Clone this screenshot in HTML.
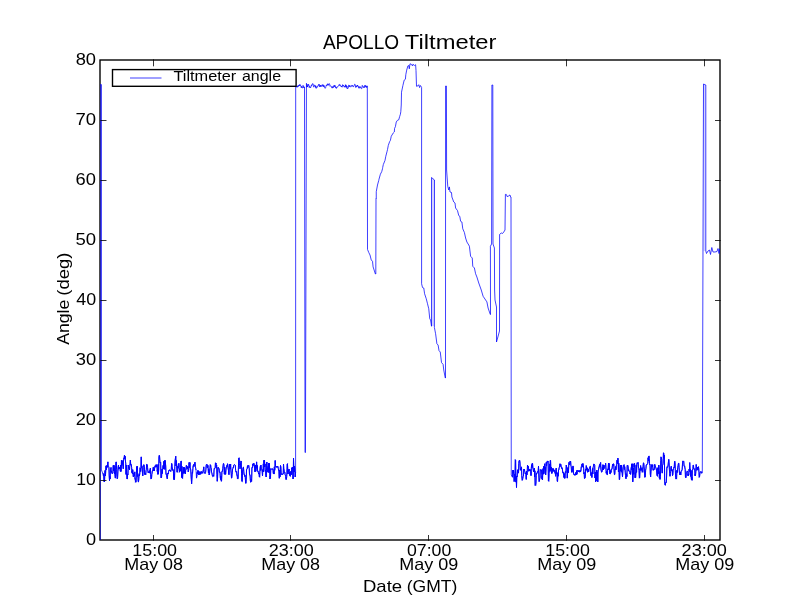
<!DOCTYPE html>
<html lang="en"><head><meta charset="utf-8"><title>APOLLO Tiltmeter</title>
<style>html,body{margin:0;padding:0;background:#fff;}body{width:800px;height:600px;overflow:hidden;font-family:"Liberation Sans",sans-serif;}svg{display:block;will-change:transform;}svg text{font-family:"Liberation Sans",sans-serif;fill:#000;}</style></head><body>
<svg width="800" height="600" viewBox="0 0 800 600">
<rect x="0" y="0" width="800" height="600" fill="#fff"/>
<defs><clipPath id="ax"><rect x="100" y="60" width="620" height="480"/></clipPath></defs>
<rect x="100" y="60" width="620" height="480" fill="none" stroke="#000" stroke-width="1.39"/>
<rect x="431.9" y="179" width="2.2" height="147" fill="#d4d4ff"/><rect x="703.6" y="85" width="1.9" height="166" fill="#d4d4ff"/>
<path clip-path="url(#ax)" d="M100.2,540 L100.2,84.6 L101.45,84.6 L101.45,470 L102.88,473.75 L103.15,473.45 L103.42,475.71 L103.69,474.44 L103.96,481.36 L104.23,480.62 L104.5,481.88 L104.81,473.49 L105.12,470.46 L105.44,475.81 L105.75,470 L106.05,465.85 L106.36,469.7 L106.66,467.65 L106.97,465.4 L107.27,467.28 L107.58,463.93 L107.88,461.88 L108.15,466.34 L108.42,466.31 L108.69,466.67 L108.96,467.78 L109.23,476.1 L109.5,480.62 L109.8,476.37 L110.1,478.96 L110.4,469.7 L110.7,468.79 L111,467.5 L111.31,472.17 L111.62,471.46 L111.94,473.31 L112.25,473.75 L112.56,473.35 L112.88,473.24 L113.19,465.32 L113.5,465.62 L113.77,470.81 L114.04,465.32 L114.31,467.89 L114.57,473.97 L114.84,472.26 L115.11,476.18 L115.38,478.12 L115.69,465.56 L116,461.88 L116.31,462.05 L116.62,469.28 L116.94,476.38 L117.25,478.75 L117.56,477.96 L117.88,471.87 L118.19,466.78 L118.5,465 L118.77,469.14 L119.04,468.72 L119.31,468.01 L119.57,468.87 L119.84,467.01 L120.11,468.26 L120.38,471.25 L120.65,465.2 L120.91,471.55 L121.18,470.28 L121.45,460.4 L121.72,465.76 L121.98,460.77 L122.25,460.62 L122.5,464.07 L122.75,464.14 L123,465.23 L123.25,468.75 L123.56,459.47 L123.88,457.66 L124.19,457.43 L124.5,455 L124.81,459.19 L125.12,456.22 L125.44,461.01 L125.75,463.75 L126.06,474.43 L126.38,465.35 L126.69,473.62 L127,478.75 L127.31,479.05 L127.62,473.95 L127.94,474.61 L128.25,465 L128.56,466.86 L128.88,468.36 L129.19,467.18 L129.5,470 L129.79,465.7 L130.09,463.59 L130.38,460 L130.69,464.88 L131,465.12 L131.31,464.59 L131.62,467.5 L131.89,472.57 L132.16,471.3 L132.43,473.71 L132.69,469.67 L132.96,471.88 L133.23,476.49 L133.5,476.88 L133.81,475.21 L134.12,472.95 L134.44,475.58 L134.75,471.88 L135,479.15 L135.25,478.71 L135.5,482.18 L135.75,481.88 L136.05,482.17 L136.35,474.95 L136.65,466.68 L136.95,470.39 L137.25,466.25 L137.56,476.43 L137.88,475.17 L138.19,481.67 L138.5,481.88 L138.81,478.78 L139.12,473.71 L139.44,475.88 L139.75,473.75 L140.05,467.79 L140.35,468.09 L140.65,471.45 L140.95,467.69 L141.25,456.88 L141.52,467.56 L141.79,465.84 L142.06,466.74 L142.34,470.08 L142.61,475.92 L142.88,475.62 L143.19,467.6 L143.5,465.22 L143.81,464.7 L144.12,465 L144.37,466.86 L144.62,474.46 L144.87,474.68 L145.12,474.38 L145.42,473 L145.72,474.68 L146.02,470.69 L146.32,469.66 L146.62,464.38 L146.94,464.28 L147.25,464.93 L147.56,467.42 L147.88,471.25 L148.15,472.64 L148.42,473.03 L148.69,472.46 L148.96,471.44 L149.23,472.51 L149.5,473.12 L149.79,470.11 L150.09,470.27 L150.38,468.12 L150.67,474.52 L150.96,479.05 L151.25,478.75 L151.52,478.3 L151.79,474.41 L152.06,473.44 L152.34,470.85 L152.61,470.32 L152.88,470.62 L153.17,467.24 L153.46,467.35 L153.74,470.92 L154.03,468.94 L154.32,470.92 L154.61,468.09 L154.89,466.17 L155.18,465.73 L155.47,466.53 L155.76,467.2 L156.04,464.7 L156.33,466.86 L156.62,465 L156.94,464.7 L157.25,471.38 L157.56,469.1 L157.88,474.38 L158.15,464.43 L158.42,474.05 L158.69,469.66 L158.96,456.92 L159.23,455.32 L159.5,455.62 L159.79,459.62 L160.09,462.8 L160.38,462.5 L160.67,462.2 L160.96,477.8 L161.25,477.5 L161.52,477.8 L161.79,472.14 L162.06,468.96 L162.34,473.51 L162.61,468.89 L162.88,468.75 L163.15,465.45 L163.42,469.05 L163.69,461.49 L163.96,461.92 L164.23,462.48 L164.5,460.62 L164.8,469.38 L165.1,460.32 L165.4,462.95 L165.7,465.92 L166,474.38 L166.31,474.12 L166.62,475.68 L166.94,477.48 L167.25,478.75 L167.56,475.97 L167.88,473.04 L168.19,474.01 L168.5,471.88 L168.78,470.69 L169.06,470.83 L169.33,470 L169.61,469.72 L169.89,470.7 L170.17,470.38 L170.44,470.85 L170.72,471.47 L171,470 L171.29,469.63 L171.59,463.45 L171.88,463.75 L172.13,466.83 L172.38,467.76 L172.63,470.3 L172.88,470 L173.15,469.7 L173.42,471 L173.69,478.84 L173.96,479.68 L174.23,474.14 L174.5,479.38 L174.81,466.63 L175.12,460.54 L175.44,458.29 L175.75,456.25 L176.05,465.97 L176.35,460.57 L176.65,465.4 L176.95,472.18 L177.25,471.88 L177.55,472.18 L177.85,466.28 L178.15,468.19 L178.45,463.65 L178.75,463.75 L179,463.45 L179.25,467.58 L179.5,472.18 L179.75,471.88 L180.06,469.05 L180.38,470.86 L180.69,463.84 L181,461.25 L181.31,460.95 L181.62,477.42 L181.94,466.45 L182.25,478.12 L182.56,478.42 L182.88,471.87 L183.19,473.4 L183.5,467.5 L183.77,471.76 L184.04,467.2 L184.31,473.28 L184.57,467.74 L184.84,468.71 L185.11,469.87 L185.38,473.75 L185.69,470.26 L186,469.88 L186.31,465.32 L186.62,465.62 L186.89,468.24 L187.16,467.81 L187.44,468.72 L187.71,466.53 L187.98,467.98 L188.25,471.88 L188.54,470.77 L188.83,468.76 L189.12,462.5 L189.39,467.55 L189.66,464.95 L189.94,462.56 L190.21,467.29 L190.48,468.21 L190.75,470 L191.04,474.83 L191.33,479.49 L191.62,483.75 L191.94,478 L192.25,472.56 L192.56,473.17 L192.88,468.75 L193.15,465.9 L193.41,465.33 L193.68,464.56 L193.95,466.52 L194.22,464.96 L194.48,463.85 L194.75,462.5 L195.06,462.2 L195.38,466.35 L195.69,468.39 L196,470 L196.5,478.12 L196.81,476.23 L197.12,472.48 L197.44,473.61 L197.75,470.62 L198.02,470.32 L198.29,471.75 L198.56,474.68 L198.84,471.16 L199.11,472.89 L199.38,474.38 L199.65,474.66 L199.91,472.17 L200.18,472.06 L200.45,474.12 L200.72,474.32 L200.98,471.59 L201.25,471.88 L201.56,471.58 L201.88,473.42 L202.19,472.39 L202.5,473.12 L202.81,472.28 L203.12,470.75 L203.44,469.38 L203.75,466.88 L204.06,471.33 L204.38,473.22 L204.69,472.91 L205,473.12 L205.3,473.42 L205.6,472.33 L205.9,469.2 L206.2,465.49 L206.5,464.38 L206.77,464.08 L207.04,464.45 L207.31,467.73 L207.58,467.29 L207.85,465.34 L208.12,467.5 L208.44,472.7 L208.75,469.4 L209.06,474.68 L209.38,475 L209.69,472.09 L210,467.62 L210.31,464.7 L210.62,465 L210.94,467.71 L211.25,468.3 L211.56,472.17 L211.88,473.12 L212.19,474.72 L212.5,476.02 L212.81,476.55 L213.12,476.25 L213.44,475.3 L213.75,476.23 L214.06,470.12 L214.38,468.12 L214.65,468.42 L214.92,468.3 L215.19,467.48 L215.46,462.82 L215.73,464.37 L216,463.12 L216.31,467.95 L216.62,465 L216.94,474.38 L217.25,481.25 L217.56,478.04 L217.88,467.61 L218.19,467.2 L218.5,467.5 L218.8,468.84 L219.1,468.78 L219.4,472.18 L219.7,472.18 L220,471.88 L220.31,477.44 L220.62,479.53 L220.94,476.21 L221.25,481.25 L221.56,481.09 L221.88,472.09 L222.19,470.95 L222.5,471.25 L222.81,468.37 L223.12,465.44 L223.44,463.45 L223.75,463.75 L224.06,466.6 L224.38,474.15 L224.69,467.12 L225,474.38 L225.31,470.98 L225.62,474.23 L225.94,469.88 L226.25,468.12 L226.56,466.84 L226.88,465.5 L227.19,466.54 L227.5,463.75 L227.81,466.08 L228.12,468.01 L228.44,470.22 L228.75,474.38 L229.06,474.68 L229.38,464.4 L229.69,466.3 L230,464.38 L230.3,469.04 L230.6,464.08 L230.9,470.11 L231.2,473.27 L231.5,478.12 L231.77,477.93 L232.04,474.79 L232.31,472.79 L232.58,468.87 L232.85,468.5 L233.12,467.5 L233.39,467.8 L233.66,465.39 L233.93,464.95 L234.19,464.85 L234.46,464.7 L234.73,464.7 L235,465 L235.31,465.29 L235.62,470.23 L235.94,472.18 L236.25,471.88 L236.56,471.58 L236.88,475.32 L237.19,475.08 L237.5,478.75 L237.81,479.05 L238.12,478.31 L238.44,467.21 L238.75,458.12 L239.06,457.82 L239.38,463.37 L239.69,465.35 L240,468.75 L240.31,467.2 L240.62,462.76 L240.94,460.95 L241.25,461.25 L241.56,473.28 L241.88,481.25 L242.19,481.55 L242.5,472.12 L242.81,469.26 L243.12,467.5 L243.44,467.2 L243.75,471.19 L244.06,474.68 L244.38,474.38 L244.69,476.38 L245,475.3 L245.31,477.38 L245.62,483.12 L245.94,483.42 L246.25,479.15 L246.56,469.46 L246.88,469.38 L247.15,468.91 L247.41,466.52 L247.68,468.05 L247.95,465.32 L248.22,465.75 L248.48,466.08 L248.75,465.62 L249,467.63 L249.25,468.3 L249.5,474.26 L249.75,475 L250.06,474.82 L250.38,480.57 L250.69,482.18 L251,481.88 L251.31,479.34 L251.62,481.25 L251.94,467.51 L252.25,467.5 L252.55,467.8 L252.85,463.87 L253.15,465.54 L253.45,463.45 L253.75,463.75 L254.06,463.45 L254.38,465.88 L254.69,468.81 L255,471.88 L255.27,465.05 L255.54,466.29 L255.81,471.26 L256.08,468.36 L256.35,465.27 L256.62,461.88 L256.92,468.29 L257.22,465.48 L257.52,470.02 L257.82,471.55 L258.12,471.25 L258.44,472.82 L258.75,474.03 L259.06,473.27 L259.38,476.88 L259.65,477.18 L259.92,470.93 L260.19,467.29 L260.46,465.72 L260.73,470.39 L261,465 L262.5,476 L262.79,469.67 L263.07,471.46 L263.36,463.82 L263.64,471.92 L263.93,460.34 L264.21,463.11 L264.5,460 L264.75,466.91 L265,463.94 L265.25,470.3 L265.5,470 L265.85,475.27 L266.2,477 L266.5,470.21 L266.8,462 L267.05,465.83 L267.3,467.89 L267.55,468.05 L267.8,472 L268.05,472.3 L268.3,466.59 L268.55,469.82 L268.8,463 L269.1,472.55 L269.4,463.57 L269.7,471.19 L270,479 L270.25,476.27 L270.5,477.26 L270.75,468.7 L271,469 L271.29,469.16 L271.57,468.82 L271.86,469.3 L272.14,469.3 L272.43,469.3 L272.71,468.7 L273,469 L273.25,473.02 L273.5,474 L273.78,470.92 L274.07,474.05 L274.35,466.85 L274.63,470.49 L274.92,469.31 L275.2,460.5 L275.5,465.69 L275.8,466.5 L276.07,467.15 L276.35,467.2 L276.62,466.85 L276.9,466.2 L277.18,467.3 L277.45,466.81 L277.73,466.2 L278,467 L278.3,468.46 L278.6,470.44 L278.9,470.23 L279.2,478.3 L279.5,478 L279.75,469.99 L280,476.84 L280.25,469.25 L280.5,465.5 L280.85,466.96 L281.2,474.5 L281.5,474.16 L281.8,474.24 L282.1,473.7 L282.4,474.64 L282.7,474.36 L283,474 L283.25,473.99 L283.5,464 L283.76,468.42 L284.02,469.65 L284.28,472.3 L284.54,472.3 L284.8,472 L285.08,474.5 L285.36,475.1 L285.64,476.38 L285.92,479.3 L286.2,479 L286.45,479.3 L286.7,476.41 L286.95,472.79 L287.2,464 L287.47,463.7 L287.73,469.85 L288,474 L288.25,470.34 L288.5,472 L288.75,470.72 L289,469 L289.25,471.21 L289.5,475.24 L289.75,472.15 L290,476 L290.3,476.3 L290.6,474.51 L290.9,471.32 L291.2,474.8 L291.5,471 L291.75,467.79 L292,468.83 L292.25,468.18 L292.5,467 L292.75,474.16 L293,479 L293.25,478.26 L293.5,458 L293.75,465.72 L294,472 L294.25,471.61 L294.5,466 L294.85,469.19 L295.2,477 L295.6,472 L295.6,472 L295.7,86.5 L296.5,87.1 L296.8,86.57 L297.1,86.06 L297.4,87.22 L297.7,85.69 L298,86.67 L298.29,86.58 L298.57,85.97 L298.86,85.02 L299.14,85.97 L299.43,84.61 L299.71,85.42 L300,85.4 L300.25,84.64 L300.5,85.01 L300.75,86.17 L301,86.67 L301.3,87.75 L301.6,86.24 L301.9,86.75 L302.2,88.01 L302.5,87.95 L302.75,87.79 L303,85.4 L303.25,86.02 L303.5,85.99 L303.75,87.87 L304,87.1 L304.5,87 L305.05,452.5 L305.45,452.5 L306.45,83.3 L307,87.1 L307.25,85.78 L307.5,86.98 L307.75,84.25 L308,84.55 L308.3,85.49 L308.6,84.36 L308.9,85.19 L309.2,87.5 L309.5,86.67 L309.75,86.27 L310,87.67 L310.25,87.53 L310.5,87.95 L310.75,87.2 L311,86.66 L311.25,85.27 L311.5,85.4 L311.8,86.06 L312.1,84.03 L312.4,84.23 L312.7,83.52 L313,84.55 L313.25,84.5 L313.5,85.38 L313.75,87.15 L314,86.67 L314.3,86.05 L314.6,85.07 L314.9,85.11 L315.2,85.4 L315.45,87.37 L315.7,85.8 L315.95,87.93 L316.2,88.38 L316.46,87.64 L316.72,87.93 L316.98,86.7 L317.24,87.15 L317.5,86.25 L317.75,85.82 L318,85.77 L318.25,85.98 L318.5,84.55 L318.8,85.09 L319.1,84.34 L319.4,84.48 L319.7,87.03 L320,86.25 L320.29,86.04 L320.57,85.12 L320.86,86.82 L321.14,85.72 L321.43,85.91 L321.71,86.11 L322,84.97 L322.3,84.61 L322.6,84.96 L322.9,86.43 L323.2,84.74 L323.5,85.83 L323.8,86.83 L324.1,85.5 L324.4,87.32 L324.7,87.69 L325,87.53 L325.3,88.31 L325.6,87.7 L325.9,86.51 L326.2,85.41 L326.5,85.83 L326.8,84.7 L327.1,85.39 L327.4,85.08 L327.7,83.73 L328,84.55 L328.25,85.35 L328.5,84.14 L328.75,84.42 L329,83.7 L329.25,83.64 L329.5,84.33 L329.75,84.39 L330,86.25 L330.3,85.94 L330.6,85.84 L330.9,86.31 L331.2,86.28 L331.5,86.67 L331.8,87.77 L332.1,88.16 L332.4,86.63 L332.7,87.44 L333,87.95 L333.25,86.48 L333.5,87.08 L333.75,87.22 L334,85.4 L334.3,84.99 L334.6,86.75 L334.9,85.92 L335.2,85.54 L335.5,87.1 L335.75,88.08 L336,87.34 L336.25,87.23 L336.5,88.38 L336.8,87.79 L337.1,86.85 L337.4,86.88 L337.7,86.54 L338,86.25 L338.3,85.87 L338.6,86.13 L338.9,85.21 L339.2,84.56 L339.5,85.4 L339.8,84.53 L340.1,84.76 L340.4,85.96 L340.7,85.73 L341,86.25 L341.29,86.96 L341.57,86.14 L341.86,86.59 L342.14,87.21 L342.43,84.85 L342.71,84.68 L343,85.83 L343.3,85.1 L343.6,85.88 L343.9,86.52 L344.2,87.11 L344.5,86.67 L344.8,86.05 L345.1,87.33 L345.4,84.67 L345.7,86.49 L346,85.4 L346.3,85.27 L346.6,87.53 L346.9,86.02 L347.2,88.94 L347.5,88.38 L347.8,88.43 L348.1,88.41 L348.4,86.79 L348.7,85.19 L349,85.4 L349.25,86.89 L349.5,85.89 L349.75,85.31 L350,86.67 L350.29,86.88 L350.57,86.55 L350.86,86.43 L351.14,85.57 L351.43,85.43 L351.71,86.51 L352,86.25 L352.29,86.13 L352.57,85.32 L352.86,86.1 L353.14,86.81 L353.43,86.79 L353.71,86.18 L354,86.25 L354.27,85.28 L354.53,84.49 L354.8,84.12 L355.05,84.29 L355.3,85.07 L355.55,86.54 L355.8,87.53 L356.1,86.01 L356.4,87.03 L356.7,86.45 L357,85.4 L357.3,86.1 L357.6,85.06 L357.9,86.34 L358.2,86.93 L358.5,87.53 L358.8,86.34 L359.1,88.35 L359.4,87.65 L359.7,86.85 L360,86.67 L360.3,87.61 L360.6,86.78 L360.9,87.27 L361.2,88.44 L361.5,88.8 L361.75,88.67 L362,87.68 L362.25,85.34 L362.5,85.83 L362.8,86.28 L363.1,87.19 L363.4,86.94 L363.7,87.57 L364,86.67 L364.3,87.62 L364.6,85.47 L364.9,85.4 L365.2,85.77 L365.5,85.4 L365.75,86.91 L366,85.71 L366.25,87.46 L366.5,86.67 L366.75,87.34 L367,86.25 L367.3,86 L367.5,249.4 L368.75,252.5 L370,255 L371.25,260 L372.5,261.25 L373.1,266.9 L375.4,274 L375.8,274 L376,198.75 L376.25,199 L376.25,191.7 L377.5,185 L378.75,180.4 L379,179.2 L380.4,174.2 L381.7,171.7 L382.5,168.75 L382.7,167.5 L383.3,164.6 L385,160.4 L385.8,156.25 L387.1,151.25 L387.5,149.6 L388.3,145.4 L389.6,141.7 L390.4,140.4 L391.25,136.25 L393.3,132.9 L394.3,132 L394.6,128.3 L395.4,126.7 L396.25,122 L397.5,120.25 L398.75,119.8 L399.6,116.7 L400.4,114.2 L400.8,111.7 L401.25,105 L401.5,92.2 L402.9,85.5 L404.2,80.1 L405.4,79.25 L405.8,74.7 L406.7,70.1 L407.9,65.9 L408.75,65.5 L409.3,68.8 L410,63.8 L411.25,64.25 L412.5,65.9 L412.9,64.25 L414.6,65.5 L415.6,64.7 L416,70.5 L416.5,86.3 L417.9,85.9 L418.75,84.7 L419.6,87.6 L420.4,85.5 L421.25,86.75 L421.6,87.5 L421.6,283.75 L422.5,287.5 L423.75,288 L424.6,293.75 L426.25,298.75 L427.5,303.75 L428.75,308.75 L429.75,318.75 L430.6,320 L431.5,326.25 L431.5,177.5 L434.5,180 L434.4,327.5 L435.6,333.75 L436.9,343.75 L438.1,345 L439,350.6 L440.25,352 L441.5,362.5 L443.1,364.4 L443.75,370 L445.25,378 L445.5,378 L445.6,86 L446.4,86 L446.6,170 L447.75,186.25 L448.75,190 L449.4,186.9 L450,192 L451.5,192.5 L451.9,197 L453.75,202 L455,203 L455.6,208 L457.5,210.6 L458.75,215.6 L459.75,216.25 L460.6,221.25 L461.9,222 L462.75,228.75 L464.4,232.5 L465.6,238 L466.9,242 L468.75,245 L469.4,246.25 L470.6,256.25 L472.25,258 L472.75,266.25 L474.4,268 L475.6,273.75 L476.9,277 L478.75,283 L481.25,290 L483.1,296.25 L486.9,301.9 L488.1,308 L490.3,314.5 L490.5,314.5 L490.4,246.25 L491.6,244 L491.9,85 L492.8,85 L493,244 L494.4,248 L494.6,290 L495,300 L496.5,307 L496.5,342 L499.5,331 L499.6,234.4 L501.25,233 L502.5,233.5 L503.75,232 L505,230 L505.4,194.4 L506.25,194.4 L507.5,197 L508.75,195.6 L510,195 L510.6,197 L511,197 L511.25,475 L512.25,476.88 L512.56,477.18 L512.88,470.08 L513.19,473.42 L513.5,470 L513.79,473.56 L514.09,481.55 L514.38,481.25 L514.69,474.03 L515,479.21 L515.31,459.7 L515.62,460 L515.91,482.08 L516.21,476.06 L516.5,487.5 L516.75,477.71 L517,476.12 L517.25,476.61 L517.5,470 L517.75,469.7 L518,471.09 L518.25,470.31 L518.5,473.12 L518.79,463.53 L519.09,460.63 L519.38,460.62 L519.69,460.33 L520,463.1 L520.31,470.3 L520.62,470 L520.91,468.61 L521.21,469.41 L521.5,466.88 L521.75,475.4 L522,478.64 L522.25,480.3 L522.5,480 L522.81,478.17 L523.12,476.56 L523.44,476.2 L523.75,469.38 L524.06,470.16 L524.38,469.34 L524.69,471.33 L525,471.88 L525.31,474 L525.62,473.04 L525.94,474.21 L526.25,479.38 L526.56,471.28 L526.88,475.01 L527.19,473.06 L527.5,465 L527.81,467.65 L528.12,467.61 L528.44,466.4 L528.75,471.25 L529.06,469.28 L529.38,470.78 L529.69,469.94 L530,469.38 L530.25,470.64 L530.5,470.21 L530.75,471.44 L531,475.62 L531.31,468.46 L531.62,464.69 L531.94,467.5 L532.25,463.12 L532.56,463.53 L532.88,468.01 L533.19,469.04 L533.5,471.88 L533.79,470.85 L534.09,470.53 L534.38,468.12 L534.63,476.98 L534.88,470.77 L535.13,485.3 L535.38,485 L535.66,485.3 L535.94,482.91 L536.22,475.52 L536.5,473.12 L536.81,473.42 L537.12,473.27 L537.44,471.58 L537.75,471.88 L538,471.2 L538.25,470.37 L538.5,466.25 L538.79,475.01 L539.09,481.55 L539.38,481.25 L539.69,478.77 L540,477.59 L540.31,469.7 L540.62,470 L540.91,470.22 L541.21,469.7 L541.5,470 L541.75,474.82 L542,479.16 L542.25,476.17 L542.5,480 L542.78,471.1 L543.06,468.64 L543.34,474.17 L543.62,466.38 L543.91,473.66 L544.19,469.56 L544.47,465.78 L544.75,463.75 L545.04,469.46 L545.33,467.24 L545.62,475 L545.93,471.17 L546.25,462.47 L546.57,465.78 L546.88,461.88 L547.19,462.18 L547.5,460.95 L547.81,461.77 L548.12,461.25 L548.43,480.81 L548.75,481.25 L549.05,473.61 L549.35,467.19 L549.65,463.94 L549.95,471.38 L550.25,460.62 L550.56,460.32 L550.88,470.35 L551.19,466.99 L551.5,473.12 L551.77,473.42 L552.04,473.42 L552.31,472.77 L552.58,468.58 L552.85,469.73 L553.12,468.75 L553.43,468.72 L553.75,471.35 L554.07,469.89 L554.38,471.25 L554.69,470.95 L555,473.2 L555.31,472.58 L555.62,476.25 L555.93,469.78 L556.25,468.12 L556.5,474.07 L556.75,472.4 L557,473.82 L557.25,481.25 L557.56,481.55 L557.88,472.88 L558.19,476.2 L558.5,470 L558.8,470.03 L559.1,467.89 L559.4,467.29 L559.7,465.56 L560,463.75 L560.27,466.18 L560.54,466.02 L560.81,464.4 L561.07,467.07 L561.34,466.91 L561.61,468.42 L561.88,468.12 L562.19,467.82 L562.5,470.06 L562.81,472.8 L563.12,472.5 L563.39,472.2 L563.66,475.56 L563.93,477.47 L564.19,476.41 L564.46,473.68 L564.73,478.42 L565,478.12 L565.31,471.73 L565.62,471.8 L565.94,472.45 L566.25,465 L566.5,465.82 L566.75,468.19 L567,469.8 L567.25,478.12 L567.55,473.43 L567.85,467.64 L568.15,472.81 L568.45,471.96 L568.75,465 L569.02,462.36 L569.28,464.06 L569.55,464.77 L569.82,464.17 L570.09,461.21 L570.35,461.93 L570.62,461.25 L570.93,465.9 L571.25,466.79 L571.57,472.18 L571.88,471.88 L572.17,472.18 L572.46,471.12 L572.75,466.25 L573,465.95 L573.25,466.2 L573.5,473.13 L573.75,474.38 L574.02,474.62 L574.28,474.11 L574.55,474.16 L574.82,475.28 L575.09,475.3 L575.35,474.08 L575.62,475 L575.89,472.38 L576.16,474.91 L576.43,472.71 L576.69,470.67 L576.96,474.25 L577.23,470.34 L577.5,470.62 L577.78,470.32 L578.06,470.68 L578.33,470.81 L578.61,471.54 L578.89,471.98 L579.17,470.42 L579.44,471.53 L579.72,472.18 L580,471.88 L580.31,470.55 L580.62,471.65 L580.94,470.47 L581.25,466.88 L581.52,467.18 L581.78,466.61 L582.05,463.91 L582.32,467.1 L582.59,463.82 L582.85,463.45 L583.12,463.75 L583.39,465.86 L583.66,468.36 L583.93,473.78 L584.19,472.53 L584.46,478.42 L584.73,478.42 L585,478.12 L585.31,476.84 L585.62,469.03 L585.94,470.46 L586.25,465.62 L586.55,466.88 L586.85,469.93 L587.15,467.8 L587.45,472.18 L587.75,471.88 L588.06,472.02 L588.38,469.47 L588.69,471.58 L589,469.38 L589.28,468.69 L589.55,467.88 L589.83,466.82 L590.1,466.4 L590.38,466.25 L590.68,471.95 L590.98,475.6 L591.28,472.65 L591.58,475.62 L591.88,477.5 L592.19,474.68 L592.5,468.59 L592.81,474.03 L593.12,467.5 L593.43,466.39 L593.75,464.08 L594.07,464.08 L594.38,464.38 L594.69,465.33 L595,478.02 L595.31,472 L595.62,481.88 L595.93,474.78 L596.25,480.79 L596.57,470.63 L596.88,470 L597.17,479.15 L597.46,472.02 L597.75,481.88 L598.06,472.03 L598.38,470.08 L598.69,469.01 L599,466.88 L599.27,466.35 L599.54,464.51 L599.81,467.14 L600.08,466.31 L600.35,463.59 L600.62,462.5 L600.93,469.6 L601.25,470.73 L601.57,472.18 L601.88,471.88 L602.15,471.55 L602.41,466.95 L602.68,469.44 L602.95,464.7 L603.22,466.28 L603.48,469.71 L603.75,465 L604.06,465.34 L604.38,467.33 L604.69,468.42 L605,468.12 L605.62,463.12 L605.93,467.28 L606.25,473.23 L606.57,471.07 L606.88,474.38 L607.15,474.68 L607.42,474.68 L607.69,468.99 L607.96,469.56 L608.23,467.62 L608.5,463.12 L608.81,469.69 L609.12,463.38 L609.44,467.48 L609.75,473.75 L610.05,474.05 L610.36,473.81 L610.66,470.61 L610.97,472.53 L611.27,469.08 L611.58,469.27 L611.88,469.38 L612.15,468.06 L612.42,465.76 L612.69,464.24 L612.96,465.68 L613.23,465.63 L613.5,463.75 L613.81,464.42 L614.12,470.81 L614.44,474.68 L614.75,474.38 L615.05,469.28 L615.35,469.58 L615.65,466.58 L615.95,469.82 L616.25,466.88 L616.52,464.61 L616.79,463.4 L617.07,460.17 L617.34,463.6 L617.61,461.97 L617.88,458.12 L618.17,460.59 L618.46,471.86 L618.75,463.24 L619.04,469.1 L619.33,479.68 L619.62,479.38 L619.9,472.89 L620.17,468.99 L620.45,465.32 L620.72,470.74 L621,465.62 L621.3,471.55 L621.6,465.32 L621.9,472.13 L622.2,473.44 L622.5,476.88 L622.81,471.84 L623.12,467.75 L623.44,466.58 L623.75,465 L624.06,464.7 L624.38,469.42 L624.69,466.69 L625,469.38 L625.25,472.07 L625.5,475.44 L625.75,477.95 L626,478.75 L626.3,475.79 L626.6,473.8 L626.9,476.62 L627.2,465.32 L627.5,465.62 L627.8,465.32 L628.1,466.6 L628.4,470.54 L628.7,469.63 L629,471.25 L629.27,471.31 L629.54,470.95 L629.81,471.26 L630.08,473.97 L630.35,472.73 L630.62,474.38 L630.89,472.18 L631.16,467.97 L631.43,467 L631.71,463.92 L631.98,469.98 L632.25,463.75 L632.5,475.01 L632.75,481.88 L633.06,477.11 L633.38,468.03 L633.69,474.23 L634,463.75 L634.27,466.88 L634.54,463.45 L634.81,466.24 L635.08,477.8 L635.35,472.76 L635.62,477.5 L635.93,472.84 L636.25,465.08 L636.57,472.32 L636.88,463.75 L637.19,462.81 L637.5,463.28 L637.81,463.37 L638.12,462.5 L638.43,466.99 L638.75,468.4 L639.07,470.52 L639.38,478.12 L639.69,477.44 L640,468.81 L640.31,470.21 L640.62,465.62 L640.89,469.71 L641.16,470.36 L641.43,469.5 L641.69,469.87 L641.96,467.7 L642.23,472.18 L642.5,471.88 L642.81,472.18 L643.12,466.08 L643.44,462.82 L643.75,463.12 L644.06,467 L644.38,469.06 L644.69,477.18 L645,476.88 L645.31,476.96 L645.62,470.11 L645.94,468.35 L646.25,465 L646.56,464.64 L646.88,464.77 L647.19,464.41 L647.5,463.75 L647.81,463.17 L648.12,457.72 L648.44,460.59 L648.75,456.25 L649,455.95 L649.25,458.44 L649.5,463.33 L649.75,465 L650.04,464.7 L650.33,474.16 L650.62,476.88 L650.93,471.76 L651.25,468.97 L651.57,464.7 L651.88,465 L652.15,465.01 L652.41,466.88 L652.68,464.7 L652.95,469.82 L653.22,470.3 L653.48,469.41 L653.75,470 L654,468.93 L654.25,469.23 L654.5,466.77 L654.75,464.38 L655.05,466.35 L655.35,466.23 L655.65,467.5 L655.95,467.58 L656.25,469.38 L656.56,469.08 L656.88,474.91 L657.19,475.78 L657.5,476.25 L657.81,467.75 L658.12,473.82 L658.44,473.39 L658.75,465 L659.06,467.3 L659.38,478.17 L659.69,471.74 L660,479.38 L660.25,476.61 L660.5,474.61 L660.75,460.47 L661,456.88 L661.31,457.59 L661.62,459.19 L661.94,469.77 L662.25,473.12 L662.55,465.38 L662.85,464.66 L663.15,463.36 L663.45,452.82 L663.75,453.12 L664.06,458.28 L664.38,455.28 L664.69,481.93 L665,485 L665.31,485.21 L665.62,483.01 L665.94,482.2 L666.25,482.5 L666.57,477.01 L666.88,467.5 L667.19,466.71 L667.5,467.39 L667.81,466.52 L668.12,465 L668.43,461.88 L668.75,459.38 L669.06,462.4 L669.38,469.15 L669.69,473.67 L670,476.25 L670.31,473.5 L670.62,471.72 L670.94,467.41 L671.25,466.25 L671.56,470.47 L671.88,470.8 L672.19,469.68 L672.5,475.62 L672.81,474.81 L673.12,470.44 L673.44,468.69 L673.75,468.12 L674,467.04 L674.25,467.48 L674.5,462.24 L674.75,461.25 L675.05,463.07 L675.35,470.62 L675.65,477.75 L675.95,479.05 L676.25,478.75 L676.56,479.05 L676.88,470.34 L677.19,472.47 L677.5,470 L677.81,467.25 L678.12,465.54 L678.44,463.41 L678.75,463.12 L679.06,467.2 L679.38,472.17 L679.69,473.92 L680,475 L680.27,472.11 L680.54,473.57 L680.81,474.85 L681.07,471.9 L681.34,470.7 L681.61,470.49 L681.88,470.62 L682.19,469.37 L682.5,464.01 L682.81,460.95 L683.12,461.25 L683.43,460.95 L683.75,461.59 L684.07,466.05 L684.38,466.25 L684.65,465.95 L684.92,468.04 L685.19,469.3 L685.46,477.33 L685.73,477.8 L686,477.5 L686.3,473.06 L686.6,472.48 L686.9,472.04 L687.2,470.95 L687.5,471.25 L687.75,472.23 L688,475.77 L688.25,474.01 L688.5,475.62 L688.81,474.72 L689.12,469.18 L689.44,471.33 L689.75,462.5 L690.5,469 L690.75,476.4 L691,470.42 L691.25,477.88 L691.5,480 L691.78,477.25 L692.07,480.3 L692.35,470.72 L692.63,469.21 L692.92,468.65 L693.2,465 L693.46,465.22 L693.72,468.64 L693.98,469.27 L694.24,469.3 L694.5,469 L694.75,468.7 L695,475.78 L695.25,474.23 L695.5,475.5 L695.85,471.1 L696.2,464.5 L696.45,466.14 L696.7,467.35 L696.95,470.3 L697.2,470 L697.45,468.33 L697.7,467.05 L697.95,469.77 L698.2,467 L698.46,466.7 L698.72,468.7 L698.98,472.36 L699.24,477.3 L699.5,477 L699.85,473.77 L700.2,472 L700.46,471.7 L700.72,471.87 L700.98,471.99 L701.24,471.72 L701.5,473 L701.85,473.3 L702.2,472.5 L702.3,472.5 L703.5,84 L705.8,85 L705.8,251 L706.5,253.5 L708,251 L709.5,250 L710.5,254.5 L711.8,247.5 L713,252 L715,252 L717,251.5 L718,248.5 L719,253.5 L719.8,249 L720,250" fill="none" stroke="#00f" stroke-width="0.75" stroke-linejoin="round" stroke-linecap="butt"/>
<path clip-path="url(#ax)" d="M102.88,473.75 L103.15,473.45 L103.42,475.71 L103.69,474.44 L103.96,481.36 L104.23,480.62 L104.5,481.88 L104.81,473.49 L105.12,470.46 L105.44,475.81 L105.75,470 L106.05,465.85 L106.36,469.7 L106.66,467.65 L106.97,465.4 L107.27,467.28 L107.58,463.93 L107.88,461.88 L108.15,466.34 L108.42,466.31 L108.69,466.67 L108.96,467.78 L109.23,476.1 L109.5,480.62 L109.8,476.37 L110.1,478.96 L110.4,469.7 L110.7,468.79 L111,467.5 L111.31,472.17 L111.62,471.46 L111.94,473.31 L112.25,473.75 L112.56,473.35 L112.88,473.24 L113.19,465.32 L113.5,465.62 L113.77,470.81 L114.04,465.32 L114.31,467.89 L114.57,473.97 L114.84,472.26 L115.11,476.18 L115.38,478.12 L115.69,465.56 L116,461.88 L116.31,462.05 L116.62,469.28 L116.94,476.38 L117.25,478.75 L117.56,477.96 L117.88,471.87 L118.19,466.78 L118.5,465 L118.77,469.14 L119.04,468.72 L119.31,468.01 L119.57,468.87 L119.84,467.01 L120.11,468.26 L120.38,471.25 L120.65,465.2 L120.91,471.55 L121.18,470.28 L121.45,460.4 L121.72,465.76 L121.98,460.77 L122.25,460.62 L122.5,464.07 L122.75,464.14 L123,465.23 L123.25,468.75 L123.56,459.47 L123.88,457.66 L124.19,457.43 L124.5,455 L124.81,459.19 L125.12,456.22 L125.44,461.01 L125.75,463.75 L126.06,474.43 L126.38,465.35 L126.69,473.62 L127,478.75 L127.31,479.05 L127.62,473.95 L127.94,474.61 L128.25,465 L128.56,466.86 L128.88,468.36 L129.19,467.18 L129.5,470 L129.79,465.7 L130.09,463.59 L130.38,460 L130.69,464.88 L131,465.12 L131.31,464.59 L131.62,467.5 L131.89,472.57 L132.16,471.3 L132.43,473.71 L132.69,469.67 L132.96,471.88 L133.23,476.49 L133.5,476.88 L133.81,475.21 L134.12,472.95 L134.44,475.58 L134.75,471.88 L135,479.15 L135.25,478.71 L135.5,482.18 L135.75,481.88 L136.05,482.17 L136.35,474.95 L136.65,466.68 L136.95,470.39 L137.25,466.25 L137.56,476.43 L137.88,475.17 L138.19,481.67 L138.5,481.88 L138.81,478.78 L139.12,473.71 L139.44,475.88 L139.75,473.75 L140.05,467.79 L140.35,468.09 L140.65,471.45 L140.95,467.69 L141.25,456.88 L141.52,467.56 L141.79,465.84 L142.06,466.74 L142.34,470.08 L142.61,475.92 L142.88,475.62 L143.19,467.6 L143.5,465.22 L143.81,464.7 L144.12,465 L144.37,466.86 L144.62,474.46 L144.87,474.68 L145.12,474.38 L145.42,473 L145.72,474.68 L146.02,470.69 L146.32,469.66 L146.62,464.38 L146.94,464.28 L147.25,464.93 L147.56,467.42 L147.88,471.25 L148.15,472.64 L148.42,473.03 L148.69,472.46 L148.96,471.44 L149.23,472.51 L149.5,473.12 L149.79,470.11 L150.09,470.27 L150.38,468.12 L150.67,474.52 L150.96,479.05 L151.25,478.75 L151.52,478.3 L151.79,474.41 L152.06,473.44 L152.34,470.85 L152.61,470.32 L152.88,470.62 L153.17,467.24 L153.46,467.35 L153.74,470.92 L154.03,468.94 L154.32,470.92 L154.61,468.09 L154.89,466.17 L155.18,465.73 L155.47,466.53 L155.76,467.2 L156.04,464.7 L156.33,466.86 L156.62,465 L156.94,464.7 L157.25,471.38 L157.56,469.1 L157.88,474.38 L158.15,464.43 L158.42,474.05 L158.69,469.66 L158.96,456.92 L159.23,455.32 L159.5,455.62 L159.79,459.62 L160.09,462.8 L160.38,462.5 L160.67,462.2 L160.96,477.8 L161.25,477.5 L161.52,477.8 L161.79,472.14 L162.06,468.96 L162.34,473.51 L162.61,468.89 L162.88,468.75 L163.15,465.45 L163.42,469.05 L163.69,461.49 L163.96,461.92 L164.23,462.48 L164.5,460.62 L164.8,469.38 L165.1,460.32 L165.4,462.95 L165.7,465.92 L166,474.38 L166.31,474.12 L166.62,475.68 L166.94,477.48 L167.25,478.75 L167.56,475.97 L167.88,473.04 L168.19,474.01 L168.5,471.88 L168.78,470.69 L169.06,470.83 L169.33,470 L169.61,469.72 L169.89,470.7 L170.17,470.38 L170.44,470.85 L170.72,471.47 L171,470 L171.29,469.63 L171.59,463.45 L171.88,463.75 L172.13,466.83 L172.38,467.76 L172.63,470.3 L172.88,470 L173.15,469.7 L173.42,471 L173.69,478.84 L173.96,479.68 L174.23,474.14 L174.5,479.38 L174.81,466.63 L175.12,460.54 L175.44,458.29 L175.75,456.25 L176.05,465.97 L176.35,460.57 L176.65,465.4 L176.95,472.18 L177.25,471.88 L177.55,472.18 L177.85,466.28 L178.15,468.19 L178.45,463.65 L178.75,463.75 L179,463.45 L179.25,467.58 L179.5,472.18 L179.75,471.88 L180.06,469.05 L180.38,470.86 L180.69,463.84 L181,461.25 L181.31,460.95 L181.62,477.42 L181.94,466.45 L182.25,478.12 L182.56,478.42 L182.88,471.87 L183.19,473.4 L183.5,467.5 L183.77,471.76 L184.04,467.2 L184.31,473.28 L184.57,467.74 L184.84,468.71 L185.11,469.87 L185.38,473.75 L185.69,470.26 L186,469.88 L186.31,465.32 L186.62,465.62 L186.89,468.24 L187.16,467.81 L187.44,468.72 L187.71,466.53 L187.98,467.98 L188.25,471.88 L188.54,470.77 L188.83,468.76 L189.12,462.5 L189.39,467.55 L189.66,464.95 L189.94,462.56 L190.21,467.29 L190.48,468.21 L190.75,470 L191.04,474.83 L191.33,479.49 L191.62,483.75 L191.94,478 L192.25,472.56 L192.56,473.17 L192.88,468.75 L193.15,465.9 L193.41,465.33 L193.68,464.56 L193.95,466.52 L194.22,464.96 L194.48,463.85 L194.75,462.5 L195.06,462.2 L195.38,466.35 L195.69,468.39 L196,470" fill="none" stroke="#00f" stroke-width="0.95" stroke-linejoin="round"/>
<path clip-path="url(#ax)" d="M196.5,478.12 L196.81,476.23 L197.12,472.48 L197.44,473.61 L197.75,470.62 L198.02,470.32 L198.29,471.75 L198.56,474.68 L198.84,471.16 L199.11,472.89 L199.38,474.38 L199.65,474.66 L199.91,472.17 L200.18,472.06 L200.45,474.12 L200.72,474.32 L200.98,471.59 L201.25,471.88 L201.56,471.58 L201.88,473.42 L202.19,472.39 L202.5,473.12 L202.81,472.28 L203.12,470.75 L203.44,469.38 L203.75,466.88 L204.06,471.33 L204.38,473.22 L204.69,472.91 L205,473.12 L205.3,473.42 L205.6,472.33 L205.9,469.2 L206.2,465.49 L206.5,464.38 L206.77,464.08 L207.04,464.45 L207.31,467.73 L207.58,467.29 L207.85,465.34 L208.12,467.5 L208.44,472.7 L208.75,469.4 L209.06,474.68 L209.38,475 L209.69,472.09 L210,467.62 L210.31,464.7 L210.62,465 L210.94,467.71 L211.25,468.3 L211.56,472.17 L211.88,473.12 L212.19,474.72 L212.5,476.02 L212.81,476.55 L213.12,476.25 L213.44,475.3 L213.75,476.23 L214.06,470.12 L214.38,468.12 L214.65,468.42 L214.92,468.3 L215.19,467.48 L215.46,462.82 L215.73,464.37 L216,463.12 L216.31,467.95 L216.62,465 L216.94,474.38 L217.25,481.25 L217.56,478.04 L217.88,467.61 L218.19,467.2 L218.5,467.5 L218.8,468.84 L219.1,468.78 L219.4,472.18 L219.7,472.18 L220,471.88 L220.31,477.44 L220.62,479.53 L220.94,476.21 L221.25,481.25 L221.56,481.09 L221.88,472.09 L222.19,470.95 L222.5,471.25 L222.81,468.37 L223.12,465.44 L223.44,463.45 L223.75,463.75 L224.06,466.6 L224.38,474.15 L224.69,467.12 L225,474.38 L225.31,470.98 L225.62,474.23 L225.94,469.88 L226.25,468.12 L226.56,466.84 L226.88,465.5 L227.19,466.54 L227.5,463.75 L227.81,466.08 L228.12,468.01 L228.44,470.22 L228.75,474.38 L229.06,474.68 L229.38,464.4 L229.69,466.3 L230,464.38 L230.3,469.04 L230.6,464.08 L230.9,470.11 L231.2,473.27 L231.5,478.12 L231.77,477.93 L232.04,474.79 L232.31,472.79 L232.58,468.87 L232.85,468.5 L233.12,467.5 L233.39,467.8 L233.66,465.39 L233.93,464.95 L234.19,464.85 L234.46,464.7 L234.73,464.7 L235,465 L235.31,465.29 L235.62,470.23 L235.94,472.18 L236.25,471.88 L236.56,471.58 L236.88,475.32 L237.19,475.08 L237.5,478.75 L237.81,479.05 L238.12,478.31 L238.44,467.21 L238.75,458.12 L239.06,457.82 L239.38,463.37 L239.69,465.35 L240,468.75 L240.31,467.2 L240.62,462.76 L240.94,460.95 L241.25,461.25 L241.56,473.28 L241.88,481.25 L242.19,481.55 L242.5,472.12 L242.81,469.26 L243.12,467.5 L243.44,467.2 L243.75,471.19 L244.06,474.68 L244.38,474.38 L244.69,476.38 L245,475.3 L245.31,477.38 L245.62,483.12 L245.94,483.42 L246.25,479.15 L246.56,469.46 L246.88,469.38 L247.15,468.91 L247.41,466.52 L247.68,468.05 L247.95,465.32 L248.22,465.75 L248.48,466.08 L248.75,465.62 L249,467.63 L249.25,468.3 L249.5,474.26 L249.75,475 L250.06,474.82 L250.38,480.57 L250.69,482.18 L251,481.88 L251.31,479.34 L251.62,481.25 L251.94,467.51 L252.25,467.5 L252.55,467.8 L252.85,463.87 L253.15,465.54 L253.45,463.45 L253.75,463.75 L254.06,463.45 L254.38,465.88 L254.69,468.81 L255,471.88 L255.27,465.05 L255.54,466.29 L255.81,471.26 L256.08,468.36 L256.35,465.27 L256.62,461.88 L256.92,468.29 L257.22,465.48 L257.52,470.02 L257.82,471.55 L258.12,471.25 L258.44,472.82 L258.75,474.03 L259.06,473.27 L259.38,476.88 L259.65,477.18 L259.92,470.93 L260.19,467.29 L260.46,465.72 L260.73,470.39 L261,465" fill="none" stroke="#00f" stroke-width="0.95" stroke-linejoin="round"/>
<path clip-path="url(#ax)" d="M262.5,476 L262.79,469.67 L263.07,471.46 L263.36,463.82 L263.64,471.92 L263.93,460.34 L264.21,463.11 L264.5,460 L264.75,466.91 L265,463.94 L265.25,470.3 L265.5,470 L265.85,475.27 L266.2,477 L266.5,470.21 L266.8,462 L267.05,465.83 L267.3,467.89 L267.55,468.05 L267.8,472 L268.05,472.3 L268.3,466.59 L268.55,469.82 L268.8,463 L269.1,472.55 L269.4,463.57 L269.7,471.19 L270,479 L270.25,476.27 L270.5,477.26 L270.75,468.7 L271,469 L271.29,469.16 L271.57,468.82 L271.86,469.3 L272.14,469.3 L272.43,469.3 L272.71,468.7 L273,469 L273.25,473.02 L273.5,474 L273.78,470.92 L274.07,474.05 L274.35,466.85 L274.63,470.49 L274.92,469.31 L275.2,460.5 L275.5,465.69 L275.8,466.5 L276.07,467.15 L276.35,467.2 L276.62,466.85 L276.9,466.2 L277.18,467.3 L277.45,466.81 L277.73,466.2 L278,467 L278.3,468.46 L278.6,470.44 L278.9,470.23 L279.2,478.3 L279.5,478 L279.75,469.99 L280,476.84 L280.25,469.25 L280.5,465.5 L280.85,466.96 L281.2,474.5 L281.5,474.16 L281.8,474.24 L282.1,473.7 L282.4,474.64 L282.7,474.36 L283,474 L283.25,473.99 L283.5,464 L283.76,468.42 L284.02,469.65 L284.28,472.3 L284.54,472.3 L284.8,472 L285.08,474.5 L285.36,475.1 L285.64,476.38 L285.92,479.3 L286.2,479 L286.45,479.3 L286.7,476.41 L286.95,472.79 L287.2,464 L287.47,463.7 L287.73,469.85 L288,474 L288.25,470.34 L288.5,472 L288.75,470.72 L289,469 L289.25,471.21 L289.5,475.24 L289.75,472.15 L290,476 L290.3,476.3 L290.6,474.51 L290.9,471.32 L291.2,474.8 L291.5,471 L291.75,467.79 L292,468.83 L292.25,468.18 L292.5,467 L292.75,474.16 L293,479 L293.25,478.26 L293.5,458 L293.75,465.72 L294,472 L294.25,471.61 L294.5,466 L294.85,469.19 L295.2,477 L295.6,472" fill="none" stroke="#00f" stroke-width="0.95" stroke-linejoin="round"/>
<path clip-path="url(#ax)" d="M512.25,476.88 L512.56,477.18 L512.88,470.08 L513.19,473.42 L513.5,470 L513.79,473.56 L514.09,481.55 L514.38,481.25 L514.69,474.03 L515,479.21 L515.31,459.7 L515.62,460 L515.91,482.08 L516.21,476.06 L516.5,487.5 L516.75,477.71 L517,476.12 L517.25,476.61 L517.5,470 L517.75,469.7 L518,471.09 L518.25,470.31 L518.5,473.12 L518.79,463.53 L519.09,460.63 L519.38,460.62 L519.69,460.33 L520,463.1 L520.31,470.3 L520.62,470 L520.91,468.61 L521.21,469.41 L521.5,466.88 L521.75,475.4 L522,478.64 L522.25,480.3 L522.5,480 L522.81,478.17 L523.12,476.56 L523.44,476.2 L523.75,469.38 L524.06,470.16 L524.38,469.34 L524.69,471.33 L525,471.88 L525.31,474 L525.62,473.04 L525.94,474.21 L526.25,479.38 L526.56,471.28 L526.88,475.01 L527.19,473.06 L527.5,465 L527.81,467.65 L528.12,467.61 L528.44,466.4 L528.75,471.25 L529.06,469.28 L529.38,470.78 L529.69,469.94 L530,469.38 L530.25,470.64 L530.5,470.21 L530.75,471.44 L531,475.62 L531.31,468.46 L531.62,464.69 L531.94,467.5 L532.25,463.12 L532.56,463.53 L532.88,468.01 L533.19,469.04 L533.5,471.88 L533.79,470.85 L534.09,470.53 L534.38,468.12 L534.63,476.98 L534.88,470.77 L535.13,485.3 L535.38,485 L535.66,485.3 L535.94,482.91 L536.22,475.52 L536.5,473.12 L536.81,473.42 L537.12,473.27 L537.44,471.58 L537.75,471.88 L538,471.2 L538.25,470.37 L538.5,466.25 L538.79,475.01 L539.09,481.55 L539.38,481.25 L539.69,478.77 L540,477.59 L540.31,469.7 L540.62,470 L540.91,470.22 L541.21,469.7 L541.5,470 L541.75,474.82 L542,479.16 L542.25,476.17 L542.5,480 L542.78,471.1 L543.06,468.64 L543.34,474.17 L543.62,466.38 L543.91,473.66 L544.19,469.56 L544.47,465.78 L544.75,463.75 L545.04,469.46 L545.33,467.24 L545.62,475 L545.93,471.17 L546.25,462.47 L546.57,465.78 L546.88,461.88 L547.19,462.18 L547.5,460.95 L547.81,461.77 L548.12,461.25 L548.43,480.81 L548.75,481.25 L549.05,473.61 L549.35,467.19 L549.65,463.94 L549.95,471.38 L550.25,460.62 L550.56,460.32 L550.88,470.35 L551.19,466.99 L551.5,473.12 L551.77,473.42 L552.04,473.42 L552.31,472.77 L552.58,468.58 L552.85,469.73 L553.12,468.75 L553.43,468.72 L553.75,471.35 L554.07,469.89 L554.38,471.25 L554.69,470.95 L555,473.2 L555.31,472.58 L555.62,476.25 L555.93,469.78 L556.25,468.12 L556.5,474.07 L556.75,472.4 L557,473.82 L557.25,481.25 L557.56,481.55 L557.88,472.88 L558.19,476.2 L558.5,470 L558.8,470.03 L559.1,467.89 L559.4,467.29 L559.7,465.56 L560,463.75 L560.27,466.18 L560.54,466.02 L560.81,464.4 L561.07,467.07 L561.34,466.91 L561.61,468.42 L561.88,468.12 L562.19,467.82 L562.5,470.06 L562.81,472.8 L563.12,472.5 L563.39,472.2 L563.66,475.56 L563.93,477.47 L564.19,476.41 L564.46,473.68 L564.73,478.42 L565,478.12 L565.31,471.73 L565.62,471.8 L565.94,472.45 L566.25,465 L566.5,465.82 L566.75,468.19 L567,469.8 L567.25,478.12 L567.55,473.43 L567.85,467.64 L568.15,472.81 L568.45,471.96 L568.75,465 L569.02,462.36 L569.28,464.06 L569.55,464.77 L569.82,464.17 L570.09,461.21 L570.35,461.93 L570.62,461.25 L570.93,465.9 L571.25,466.79 L571.57,472.18 L571.88,471.88 L572.17,472.18 L572.46,471.12 L572.75,466.25 L573,465.95 L573.25,466.2 L573.5,473.13 L573.75,474.38 L574.02,474.62 L574.28,474.11 L574.55,474.16 L574.82,475.28 L575.09,475.3 L575.35,474.08 L575.62,475 L575.89,472.38 L576.16,474.91 L576.43,472.71 L576.69,470.67 L576.96,474.25 L577.23,470.34 L577.5,470.62 L577.78,470.32 L578.06,470.68 L578.33,470.81 L578.61,471.54 L578.89,471.98 L579.17,470.42 L579.44,471.53 L579.72,472.18 L580,471.88 L580.31,470.55 L580.62,471.65 L580.94,470.47 L581.25,466.88 L581.52,467.18 L581.78,466.61 L582.05,463.91 L582.32,467.1 L582.59,463.82 L582.85,463.45 L583.12,463.75 L583.39,465.86 L583.66,468.36 L583.93,473.78 L584.19,472.53 L584.46,478.42 L584.73,478.42 L585,478.12 L585.31,476.84 L585.62,469.03 L585.94,470.46 L586.25,465.62 L586.55,466.88 L586.85,469.93 L587.15,467.8 L587.45,472.18 L587.75,471.88 L588.06,472.02 L588.38,469.47 L588.69,471.58 L589,469.38 L589.28,468.69 L589.55,467.88 L589.83,466.82 L590.1,466.4 L590.38,466.25 L590.68,471.95 L590.98,475.6 L591.28,472.65 L591.58,475.62 L591.88,477.5 L592.19,474.68 L592.5,468.59 L592.81,474.03 L593.12,467.5 L593.43,466.39 L593.75,464.08 L594.07,464.08 L594.38,464.38 L594.69,465.33 L595,478.02 L595.31,472 L595.62,481.88 L595.93,474.78 L596.25,480.79 L596.57,470.63 L596.88,470 L597.17,479.15 L597.46,472.02 L597.75,481.88 L598.06,472.03 L598.38,470.08 L598.69,469.01 L599,466.88 L599.27,466.35 L599.54,464.51 L599.81,467.14 L600.08,466.31 L600.35,463.59 L600.62,462.5 L600.93,469.6 L601.25,470.73 L601.57,472.18 L601.88,471.88 L602.15,471.55 L602.41,466.95 L602.68,469.44 L602.95,464.7 L603.22,466.28 L603.48,469.71 L603.75,465 L604.06,465.34 L604.38,467.33 L604.69,468.42 L605,468.12" fill="none" stroke="#00f" stroke-width="0.95" stroke-linejoin="round"/>
<path clip-path="url(#ax)" d="M605.62,463.12 L605.93,467.28 L606.25,473.23 L606.57,471.07 L606.88,474.38 L607.15,474.68 L607.42,474.68 L607.69,468.99 L607.96,469.56 L608.23,467.62 L608.5,463.12 L608.81,469.69 L609.12,463.38 L609.44,467.48 L609.75,473.75 L610.05,474.05 L610.36,473.81 L610.66,470.61 L610.97,472.53 L611.27,469.08 L611.58,469.27 L611.88,469.38 L612.15,468.06 L612.42,465.76 L612.69,464.24 L612.96,465.68 L613.23,465.63 L613.5,463.75 L613.81,464.42 L614.12,470.81 L614.44,474.68 L614.75,474.38 L615.05,469.28 L615.35,469.58 L615.65,466.58 L615.95,469.82 L616.25,466.88 L616.52,464.61 L616.79,463.4 L617.07,460.17 L617.34,463.6 L617.61,461.97 L617.88,458.12 L618.17,460.59 L618.46,471.86 L618.75,463.24 L619.04,469.1 L619.33,479.68 L619.62,479.38 L619.9,472.89 L620.17,468.99 L620.45,465.32 L620.72,470.74 L621,465.62 L621.3,471.55 L621.6,465.32 L621.9,472.13 L622.2,473.44 L622.5,476.88 L622.81,471.84 L623.12,467.75 L623.44,466.58 L623.75,465 L624.06,464.7 L624.38,469.42 L624.69,466.69 L625,469.38 L625.25,472.07 L625.5,475.44 L625.75,477.95 L626,478.75 L626.3,475.79 L626.6,473.8 L626.9,476.62 L627.2,465.32 L627.5,465.62 L627.8,465.32 L628.1,466.6 L628.4,470.54 L628.7,469.63 L629,471.25 L629.27,471.31 L629.54,470.95 L629.81,471.26 L630.08,473.97 L630.35,472.73 L630.62,474.38 L630.89,472.18 L631.16,467.97 L631.43,467 L631.71,463.92 L631.98,469.98 L632.25,463.75 L632.5,475.01 L632.75,481.88 L633.06,477.11 L633.38,468.03 L633.69,474.23 L634,463.75 L634.27,466.88 L634.54,463.45 L634.81,466.24 L635.08,477.8 L635.35,472.76 L635.62,477.5 L635.93,472.84 L636.25,465.08 L636.57,472.32 L636.88,463.75 L637.19,462.81 L637.5,463.28 L637.81,463.37 L638.12,462.5 L638.43,466.99 L638.75,468.4 L639.07,470.52 L639.38,478.12 L639.69,477.44 L640,468.81 L640.31,470.21 L640.62,465.62 L640.89,469.71 L641.16,470.36 L641.43,469.5 L641.69,469.87 L641.96,467.7 L642.23,472.18 L642.5,471.88 L642.81,472.18 L643.12,466.08 L643.44,462.82 L643.75,463.12 L644.06,467 L644.38,469.06 L644.69,477.18 L645,476.88 L645.31,476.96 L645.62,470.11 L645.94,468.35 L646.25,465 L646.56,464.64 L646.88,464.77 L647.19,464.41 L647.5,463.75 L647.81,463.17 L648.12,457.72 L648.44,460.59 L648.75,456.25 L649,455.95 L649.25,458.44 L649.5,463.33 L649.75,465 L650.04,464.7 L650.33,474.16 L650.62,476.88 L650.93,471.76 L651.25,468.97 L651.57,464.7 L651.88,465 L652.15,465.01 L652.41,466.88 L652.68,464.7 L652.95,469.82 L653.22,470.3 L653.48,469.41 L653.75,470 L654,468.93 L654.25,469.23 L654.5,466.77 L654.75,464.38 L655.05,466.35 L655.35,466.23 L655.65,467.5 L655.95,467.58 L656.25,469.38 L656.56,469.08 L656.88,474.91 L657.19,475.78 L657.5,476.25 L657.81,467.75 L658.12,473.82 L658.44,473.39 L658.75,465 L659.06,467.3 L659.38,478.17 L659.69,471.74 L660,479.38 L660.25,476.61 L660.5,474.61 L660.75,460.47 L661,456.88 L661.31,457.59 L661.62,459.19 L661.94,469.77 L662.25,473.12 L662.55,465.38 L662.85,464.66 L663.15,463.36 L663.45,452.82 L663.75,453.12 L664.06,458.28 L664.38,455.28 L664.69,481.93 L665,485 L665.31,485.21 L665.62,483.01 L665.94,482.2 L666.25,482.5 L666.57,477.01 L666.88,467.5 L667.19,466.71 L667.5,467.39 L667.81,466.52 L668.12,465 L668.43,461.88 L668.75,459.38 L669.06,462.4 L669.38,469.15 L669.69,473.67 L670,476.25 L670.31,473.5 L670.62,471.72 L670.94,467.41 L671.25,466.25 L671.56,470.47 L671.88,470.8 L672.19,469.68 L672.5,475.62 L672.81,474.81 L673.12,470.44 L673.44,468.69 L673.75,468.12 L674,467.04 L674.25,467.48 L674.5,462.24 L674.75,461.25 L675.05,463.07 L675.35,470.62 L675.65,477.75 L675.95,479.05 L676.25,478.75 L676.56,479.05 L676.88,470.34 L677.19,472.47 L677.5,470 L677.81,467.25 L678.12,465.54 L678.44,463.41 L678.75,463.12 L679.06,467.2 L679.38,472.17 L679.69,473.92 L680,475 L680.27,472.11 L680.54,473.57 L680.81,474.85 L681.07,471.9 L681.34,470.7 L681.61,470.49 L681.88,470.62 L682.19,469.37 L682.5,464.01 L682.81,460.95 L683.12,461.25 L683.43,460.95 L683.75,461.59 L684.07,466.05 L684.38,466.25 L684.65,465.95 L684.92,468.04 L685.19,469.3 L685.46,477.33 L685.73,477.8 L686,477.5 L686.3,473.06 L686.6,472.48 L686.9,472.04 L687.2,470.95 L687.5,471.25 L687.75,472.23 L688,475.77 L688.25,474.01 L688.5,475.62 L688.81,474.72 L689.12,469.18 L689.44,471.33 L689.75,462.5" fill="none" stroke="#00f" stroke-width="0.95" stroke-linejoin="round"/>
<path clip-path="url(#ax)" d="M690.5,469 L690.75,476.4 L691,470.42 L691.25,477.88 L691.5,480 L691.78,477.25 L692.07,480.3 L692.35,470.72 L692.63,469.21 L692.92,468.65 L693.2,465 L693.46,465.22 L693.72,468.64 L693.98,469.27 L694.24,469.3 L694.5,469 L694.75,468.7 L695,475.78 L695.25,474.23 L695.5,475.5 L695.85,471.1 L696.2,464.5 L696.45,466.14 L696.7,467.35 L696.95,470.3 L697.2,470 L697.45,468.33 L697.7,467.05 L697.95,469.77 L698.2,467 L698.46,466.7 L698.72,468.7 L698.98,472.36 L699.24,477.3 L699.5,477 L699.85,473.77 L700.2,472 L700.46,471.7 L700.72,471.87 L700.98,471.99 L701.24,471.72 L701.5,473 L701.85,473.3 L702.2,472.5" fill="none" stroke="#00f" stroke-width="0.95" stroke-linejoin="round"/>
<path d="M153.5,540.7V535M153.5,59.3V66.3M290.5,540.7V535M290.5,59.3V66.3M428.5,540.7V535M428.5,59.3V66.3M566.5,540.7V535M566.5,59.3V66.3M704.5,540.7V535M704.5,59.3V66.3M100.5,480.5H106.5M720.7,480.5H715M100.5,420.5H106.5M720.7,420.5H715M100.5,360.5H106.5M720.7,360.5H715M100.5,300.5H106.5M720.7,300.5H715M100.5,240.5H106.5M720.7,240.5H715M100.5,180.5H106.5M720.7,180.5H715M100.5,120.5H106.5M720.7,120.5H715" fill="none" stroke="#000" stroke-width="0.8"/>
<rect x="112.5" y="69.6" width="183.6" height="16.7" fill="#fff" stroke="#000" stroke-width="1.39"/>
<path d="M130,78H161.5" stroke="#00f" stroke-width="0.75" fill="none"/>
<text x="322.89" y="48.90" font-size="20.4" textLength="76.25" lengthAdjust="spacingAndGlyphs">APOLLO</text>
<text x="404.86" y="48.90" font-size="20.4" textLength="91.49" lengthAdjust="spacingAndGlyphs">Tiltmeter</text>
<text x="173.43" y="81.00" font-size="14.2" textLength="62.89" lengthAdjust="spacingAndGlyphs">Tiltmeter</text>
<text x="241.96" y="81.00" font-size="14.2" textLength="39.07" lengthAdjust="spacingAndGlyphs">angle</text>
<text x="85.92" y="545.20" font-size="17" textLength="10.11" lengthAdjust="spacingAndGlyphs">0</text>
<text x="76.30" y="485.20" font-size="17" textLength="19.65" lengthAdjust="spacingAndGlyphs">10</text>
<text x="75.68" y="425.20" font-size="17" textLength="20.34" lengthAdjust="spacingAndGlyphs">20</text>
<text x="75.72" y="365.20" font-size="17" textLength="20.42" lengthAdjust="spacingAndGlyphs">30</text>
<text x="76.31" y="305.20" font-size="17" textLength="19.84" lengthAdjust="spacingAndGlyphs">40</text>
<text x="75.48" y="245.20" font-size="17" textLength="20.64" lengthAdjust="spacingAndGlyphs">50</text>
<text x="75.60" y="185.20" font-size="17" textLength="20.40" lengthAdjust="spacingAndGlyphs">60</text>
<text x="75.56" y="125.20" font-size="17" textLength="20.63" lengthAdjust="spacingAndGlyphs">70</text>
<text x="75.67" y="65.20" font-size="17" textLength="20.40" lengthAdjust="spacingAndGlyphs">80</text>
<text x="132.33" y="555.90" font-size="17" textLength="44.72" lengthAdjust="spacingAndGlyphs">15:00</text>
<text x="124.25" y="569.60" font-size="17" textLength="58.81" lengthAdjust="spacingAndGlyphs">May 08</text>
<text x="268.83" y="555.90" font-size="17" textLength="45.05" lengthAdjust="spacingAndGlyphs">23:00</text>
<text x="261.25" y="569.60" font-size="17" textLength="58.81" lengthAdjust="spacingAndGlyphs">May 08</text>
<text x="407.06" y="555.90" font-size="17" textLength="44.20" lengthAdjust="spacingAndGlyphs">07:00</text>
<text x="399.23" y="569.60" font-size="17" textLength="59.01" lengthAdjust="spacingAndGlyphs">May 09</text>
<text x="545.29" y="555.90" font-size="17" textLength="44.54" lengthAdjust="spacingAndGlyphs">15:00</text>
<text x="537.23" y="569.60" font-size="17" textLength="59.01" lengthAdjust="spacingAndGlyphs">May 09</text>
<text x="681.58" y="555.90" font-size="17" textLength="45.25" lengthAdjust="spacingAndGlyphs">23:00</text>
<text x="675.23" y="569.60" font-size="17" textLength="59.01" lengthAdjust="spacingAndGlyphs">May 09</text>
<text x="362.97" y="592.00" font-size="17" textLength="39.15" lengthAdjust="spacingAndGlyphs">Date</text>
<text x="406.72" y="592.00" font-size="17" textLength="50.60" lengthAdjust="spacingAndGlyphs">(GMT)</text>
<text transform="translate(69.25,344.79) rotate(-90)" font-size="17" textLength="45.16" lengthAdjust="spacingAndGlyphs">Angle</text>
<text transform="translate(69.25,295.73) rotate(-90)" font-size="17" textLength="43.07" lengthAdjust="spacingAndGlyphs">(deg)</text>
</svg></body></html>
